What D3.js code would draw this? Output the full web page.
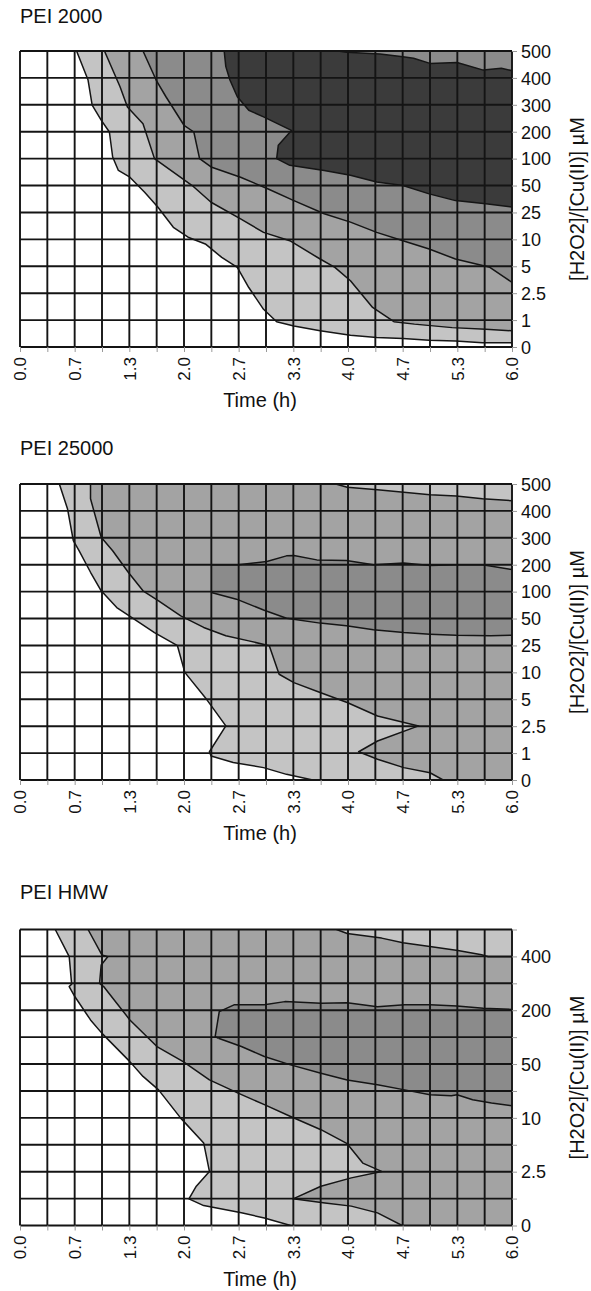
<!DOCTYPE html>
<html><head><meta charset="utf-8">
<script src="https://cdn.jsdelivr.net/npm/d3@7"></script>
<style>
body{margin:0;background:#fff}
svg{display:block}
text{font-family:"Liberation Sans",Arial,Helvetica,sans-serif;fill:#111}
</style>
</head><body>
<svg id="chart" width="591" height="1291"></svg>
<script>
// ---- axis categories / tick labels ----
const yCategories = ["0","1","2.5","5","10","25","50","100","200","300","400","500"];
const yLabelsHMW  = ["0","","2.5","","10","","50","","200","","400",""];
const xTickLabels = ["0.0","0.7","1.3","2.0","2.7","3.3","4.0","4.7","5.3","6.0"];
const timeMax = 6;
const colsPerHour = 3;

// ---- fill levels ----
const levelColors = ["#ffffff","#c4c4c4","#a3a3a3","#8b8b8b","#3b3b3b"];

// ---- PEI 2000 boundaries  [time (h), category index] ----
const p2000_A = [[0.69,11],[0.83,9.92],[0.88,8.99],[0.99,8.43],[1.09,7.99],[1.13,7.06],[1.20,6.56],[1.34,6.31],[1.52,5.75],[1.68,5.2],[1.87,4.45],[2.05,4.08],[2.26,3.83],[2.46,3.33],[2.65,2.96],[2.79,2.21],[2.97,1.40],[3.13,0.94],[3.34,0.78],[3.66,0.6],[4.03,0.44],[4.35,0.35],[4.67,0.32],[4.99,0.25],[5.31,0.22],[5.64,0.16],[6.0,0.16]];
const p2000_B = [[1.03,11],[1.22,9.67],[1.31,8.92],[1.5,8.3],[1.64,7.0],[1.84,6.56],[2.1,6.0],[2.33,5.38],[2.69,4.76],[2.97,4.26],[3.29,3.95],[3.66,3.27],[3.84,2.96],[4.03,2.46],[4.3,1.47],[4.56,0.94],[4.81,0.85],[5.27,0.72],[5.68,0.66],[6.0,0.6]];
const p2000_C = [[1.5,11],[1.66,9.92],[1.78,9.3],[2.0,8.24],[2.12,7.99],[2.19,7.0],[2.33,6.69],[2.69,6.31],[3.02,5.88],[3.34,5.44],[3.71,4.95],[4.03,4.64],[4.35,4.26],[4.67,3.95],[4.99,3.64],[5.31,3.27],[5.73,2.96],[5.91,2.59],[6.0,2.4]];
const p2000_D = [[2.49,11],[2.51,10.42],[2.56,9.92],[2.65,9.3],[2.79,8.8],[2.97,8.55],[3.31,8.05],[3.15,7.5],[3.13,7.0],[3.29,6.75],[3.71,6.56],[4.03,6.38],[4.35,6.13],[4.67,6.0],[4.99,5.69],[5.31,5.44],[5.68,5.32],[6.0,5.2]];
const p2000_Dtop = [[6.0,10.27],[5.87,10.36],[5.65,10.29],[5.33,10.57],[5.0,10.54],[4.8,10.73],[4.67,10.79],[4.39,10.89],[3.98,10.95],[3.88,11]];

// ---- PEI 25000 ----
const p25k_A = [[0.48,11],[0.58,10.07],[0.65,8.9],[0.72,8.52],[0.86,7.72],[0.99,7.03],[1.18,6.41],[1.36,6.04],[1.64,5.48],[1.92,4.99],[2.01,4.0],[2.26,3.06],[2.51,2.01],[2.31,1.05],[2.33,0.89],[2.6,0.65],[2.97,0.46],[3.25,0.21],[3.57,0]];
const p25k_B = [[0.86,11],[0.86,10.45],[0.99,9.02],[1.13,8.52],[1.32,7.72],[1.5,7.03],[1.69,6.66],[1.96,6.1],[2.24,5.67],[2.51,5.36],[2.79,5.17],[3.04,4.99],[3.16,3.93],[3.34,3.62],[3.66,3.25],[3.99,2.88],[4.36,2.38],[4.86,2.01],[4.36,1.45],[4.13,1.05],[4.36,0.77],[4.68,0.46],[5.0,0.27],[5.16,0]];
const p25k_E = [[3.85,11],[3.99,10.88],[4.36,10.79],[4.68,10.69],[5.0,10.6],[5.32,10.55],[5.64,10.45],[6.0,10.38]];
const p25k_Dtop = [[2.333,8],[2.66,8.0],[3.01,8.12],[3.25,8.33],[3.34,8.34],[3.62,8.18],[3.98,8.16],[4.31,8.0],[4.68,8.06],[5.0,7.97],[5.32,8.0],[5.64,8.0],[6.0,7.82]];
const p25k_Dbottom = [[2.333,6.97],[2.64,6.72],[2.97,6.32],[3.25,6.01],[3.66,5.83],[3.98,5.73],[4.31,5.58],[4.68,5.48],[5.0,5.42],[5.32,5.38],[5.74,5.36],[6.0,5.38]];

// ---- PEI HMW ----
const pHMW_A = [[0.43,11],[0.6,9.99],[0.63,8.97],[0.6,8.88],[0.67,8.5],[0.86,7.64],[1.0,7.14],[1.34,6.09],[1.5,5.54],[1.69,5.04],[1.96,3.99],[2.24,3.07],[2.31,2.01],[2.15,1.46],[2.06,0.99],[2.24,0.74],[2.7,0.47],[2.98,0.28],[3.3,0]];
const pHMW_B = [[0.83,11],[1.0,10.05],[1.07,9.99],[0.99,9.68],[0.97,9.0],[1.02,8.88],[1.18,8.26],[1.34,7.64],[1.67,6.65],[1.99,6.09],[2.31,5.41],[2.66,4.92],[2.98,4.49],[3.3,4.05],[3.67,3.56],[3.99,3.04],[4.18,2.32],[4.41,2.01],[4.04,1.77],[3.67,1.46],[3.33,0.99],[3.72,0.84],[4.04,0.72],[4.36,0.47],[4.66,0]];
const pHMW_E = [[3.86,11],[3.99,10.85],[4.41,10.68],[4.67,10.51],[5.02,10.36],[5.34,10.22],[5.63,10.06],[5.71,9.99],[6.0,9.99]];
const pHMW_Dtop = [[2.42,6.96],[2.38,7.02],[2.43,7.95],[2.61,8.2],[2.98,8.2],[3.23,8.32],[3.67,8.26],[3.99,8.28],[4.36,8.13],[4.69,8.2],[5.0,8.2],[5.33,8.16],[5.65,8.07],[6.0,8.03]];
const pHMW_Dbottom = [[2.42,6.96],[2.7,6.65],[2.98,6.28],[3.3,5.97],[3.67,5.66],[3.99,5.41],[4.36,5.23],[4.69,5.04],[5.0,4.86],[5.26,4.82],[5.33,4.86],[5.52,4.67],[5.75,4.55],[6.0,4.45]];

const yMaxIdx = yCategories.length - 1;
// open boundary (top edge -> right/bottom edge): close through the right-hand corners
function openRegion(line){
  const pts = line.slice();
  const last = pts[pts.length-1];
  if (last[1] === 0) pts.push([timeMax, 0]);
  pts.push([timeMax, yMaxIdx]);
  return pts;
}

const panels = [
  {title:"PEI 2000", top:51, titleY:23, yLabels:yCategories,
   regions:[{poly:openRegion(p2000_A),level:1},{poly:openRegion(p2000_B),level:2},{poly:openRegion(p2000_C),level:3},{poly:p2000_D.concat(p2000_Dtop),level:4}],
   lines:[p2000_A,p2000_B,p2000_C,p2000_D,p2000_Dtop]},
  {title:"PEI 25000", top:484, titleY:455, yLabels:yCategories,
   regions:[{poly:openRegion(p25k_A),level:1},{poly:openRegion(p25k_B),level:2},{poly:openRegion(p25k_E),level:1},{poly:p25k_Dtop.concat(p25k_Dbottom.slice().reverse()),level:3}],
   lines:[p25k_A,p25k_B,p25k_E,p25k_Dtop,p25k_Dbottom]},
  {title:"PEI HMW", top:929.5, titleY:899, yLabels:yLabelsHMW,
   regions:[{poly:openRegion(pHMW_A),level:1},{poly:openRegion(pHMW_B),level:2},{poly:openRegion(pHMW_E),level:1},{poly:pHMW_Dtop.concat(pHMW_Dbottom.slice().reverse()),level:3}],
   lines:[pHMW_A,pHMW_B,pHMW_E,pHMW_Dtop,pHMW_Dbottom]}
];

const svg = d3.select("#chart");
const left = 20, right = 512, plotH = 296;
const x = d3.scaleLinear().domain([0, timeMax]).range([left, right]);
const colVals = d3.range(0, timeMax*colsPerHour + 1).map(i => i/colsPerHour);
const rowIdx = d3.range(0, yMaxIdx + 1);

panels.forEach((p, pi) => {
  const top = p.top, bottom = top + plotH;
  const y = d3.scaleLinear().domain([0, yMaxIdx]).range([bottom, top]);
  const g = svg.append("g");
  const clipId = "clip" + pi;
  g.append("clipPath").attr("id", clipId).append("rect")
    .attr("x", left).attr("y", top).attr("width", right-left).attr("height", plotH);

  const fills = g.append("g").attr("clip-path", `url(#${clipId})`);
  fills.append("rect").attr("x", left).attr("y", top).attr("width", right-left).attr("height", plotH).attr("fill", levelColors[0]);
  const lineGen = d3.line().x(d => x(d[0])).y(d => y(d[1]));
  p.regions.forEach(r => {
    fills.append("path").attr("d", lineGen(r.poly) + "Z").attr("fill", levelColors[r.level]).attr("stroke","none");
  });
  p.lines.forEach(l => {
    fills.append("path").attr("d", lineGen(l)).attr("fill","none").attr("stroke","#151515").attr("stroke-width",1.5).attr("stroke-linejoin","round");
  });

  // grid
  const grid = g.append("g").attr("stroke","#141414").attr("stroke-width",1.9);
  colVals.forEach(v => grid.append("line").attr("x1", x(v)).attr("x2", x(v)).attr("y1", top).attr("y2", bottom));
  rowIdx.forEach(i => grid.append("line").attr("x1", left).attr("x2", right).attr("y1", y(i)).attr("y2", y(i)));

  // bottom axis
  const xAxis = d3.axisBottom(x).tickValues(colVals).tickSize(5).tickSizeOuter(0)
    .tickFormat((d,i) => i % 2 === 0 ? xTickLabels[i/2] : "");
  const ax = g.append("g").attr("transform", `translate(0,${bottom})`).call(xAxis);
  ax.select(".domain").remove();
  ax.selectAll(".tick line").attr("stroke","#9a9a9a").attr("stroke-width",1);
  ax.selectAll(".tick text")
    .attr("transform","translate(0,10) rotate(-90)")
    .attr("x",0).attr("y",0).attr("dy","0.35em")
    .attr("text-anchor","end")
    .style("font-size","17px").style("font-family",'"Liberation Sans",Arial,sans-serif').attr("fill","#111");

  // right axis
  const yAxis = d3.axisRight(y).tickValues(rowIdx).tickSize(5).tickSizeOuter(0)
    .tickFormat(i => p.yLabels[i]);
  const ay = g.append("g").attr("transform", `translate(${right},0)`).call(yAxis);
  ay.select(".domain").remove();
  ay.selectAll(".tick line").attr("stroke","#9a9a9a").attr("stroke-width",1);
  ay.selectAll(".tick text").attr("x",9).attr("dy","0.35em")
    .style("font-size","18px").style("font-family",'"Liberation Sans",Arial,sans-serif').attr("fill","#111");

  // titles
  g.append("text").attr("x", 20).attr("y", p.titleY).style("font-size","20px").text(p.title);
  g.append("text").attr("x", 260).attr("y", bottom + 60).attr("text-anchor","middle").style("font-size","20px").text("Time (h)");
  g.append("text").attr("transform", `translate(577,${(top+bottom)/2}) rotate(-90)`).attr("dy","0.35em")
    .attr("text-anchor","middle").style("font-size","20px").text("[H2O2]/[Cu(II)] µM");
});
</script>
</body></html>
